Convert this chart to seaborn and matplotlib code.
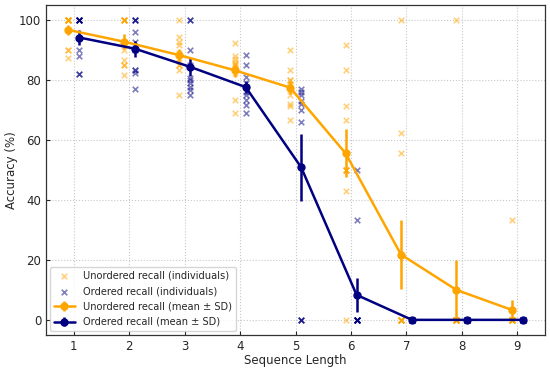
import numpy as np
import pandas as pd
import matplotlib
matplotlib.use("Agg")
import matplotlib.pyplot as plt
import seaborn as sns

# ---- data (accuracy %, 10 participants per sequence length) ----
lengths = [1, 2, 3, 4, 5, 6, 7, 8, 9]
unordered = [
    [100, 100, 100, 100, 100, 100, 100, 90, 90, 87.5],
    [100, 100, 100, 100, 100, 90, 86.7, 85, 85, 81.7],
    [100, 94.4, 92.6, 91.7, 88.9, 87.5, 85, 85, 83.3, 75],
    [92.5, 88, 87, 86, 85.5, 85, 84, 82.5, 73.3, 69],
    [90, 83.3, 80, 80, 78.6, 78, 75, 72, 71.4, 66.7],
    [91.7, 83.3, 71.4, 66.7, 50, 50, 50, 50, 42.9, 0],
    [100, 62.5, 55.6, 0, 0, 0, 0, 0, 0, 0],
    [100, 0, 0, 0, 0, 0, 0, 0, 0, 0],
    [33.3, 0, 0, 0, 0, 0, 0, 0, 0, 0],
]
ordered = [
    [100, 100, 100, 100, 100, 100, 90, 88, 82, 82],
    [100, 100, 100, 96, 92.8, 90, 83.3, 83.3, 82.4, 77],
    [100, 100, 90, 85, 80.6, 80, 78.9, 77.8, 76.7, 75],
    [88.5, 85.2, 81.1, 79, 77.8, 76, 75, 73.3, 71.7, 69],
    [77, 76, 75, 73, 72, 70, 66, 0, 0, 0],
    [50, 33.3, 0, 0, 0, 0, 0, 0, 0, 0],
    [0, 0, 0, 0, 0, 0, 0, 0, 0, 0],
    [0, 0, 0, 0, 0, 0, 0, 0, 0, 0],
    [0, 0, 0, 0, 0, 0, 0, 0, 0, 0],
]
x_ticks = [1, 2, 3, 4, 5, 6, 7, 8, 9]
y_ticks = [0, 20, 40, 60, 80, 100]

# ---- long-form tables ----
rows = []
for L, u_vals, o_vals in zip(lengths, unordered, ordered):
    for v in u_vals:
        rows.append(dict(length=L, cond="Unordered", acc=v))
    for v in o_vals:
        rows.append(dict(length=L, cond="Ordered", acc=v))
df = pd.DataFrame(rows)
offsets = {"Unordered": -0.1, "Ordered": 0.1}
df["xpos"] = df["length"] + df["cond"].map(offsets)

summary = df.groupby(["cond", "length"])["acc"].agg(["mean", "sem"]).reset_index()
summary["xpos"] = summary["length"] + summary["cond"].map(offsets)

sns.set_style("ticks")
plt.rcParams["font.family"] = ["DejaVu Sans"]
plt.rcParams["xtick.direction"] = "in"
plt.rcParams["ytick.direction"] = "in"

fig = plt.figure(figsize=(5.5, 3.7), dpi=100)
ax = fig.add_axes([0.084, 0.095, 0.907, 0.891])

colors = {"Unordered": "orange", "Ordered": "navy"}

for cond in ["Unordered", "Ordered"]:
    sub = df[df["cond"] == cond]
    sns.scatterplot(data=sub, x="xpos", y="acc", marker="x", color=colors[cond],
                    alpha=0.5, s=16, linewidth=1.2, ax=ax,
                    label=f"{cond} recall (individuals)")

for cond in ["Unordered", "Ordered"]:
    s = summary[summary["cond"] == cond].sort_values("length")
    ax.errorbar(s["xpos"], s["mean"], yerr=s["sem"], color=colors[cond],
                marker="o", markersize=5, linewidth=1.8, elinewidth=1.8,
                capsize=0, label=f"{cond} recall (mean ± SD)", zorder=5)

ax.set_xlim(0.5, 9.5)
ax.set_ylim(-5, 105)
ax.set_xticks(x_ticks)
ax.set_yticks(y_ticks)
ax.tick_params(labelsize=8.5, length=3, width=0.8)
ax.set_xlabel("Sequence Length", fontsize=8.5, labelpad=1)
ax.set_ylabel("Accuracy (%)", fontsize=8.5, labelpad=1)
ax.grid(True, linestyle=":", linewidth=0.8, color="#c8c8c8")
ax.set_axisbelow(True)
for sp in ax.spines.values():
    sp.set_color("#333333")
    sp.set_linewidth(0.9)

ax.legend(loc="lower left", fontsize=7.1, frameon=True, borderaxespad=0.4,
          handlelength=2.1, labelspacing=0.55)

fig.savefig("out.png", dpi=100)
